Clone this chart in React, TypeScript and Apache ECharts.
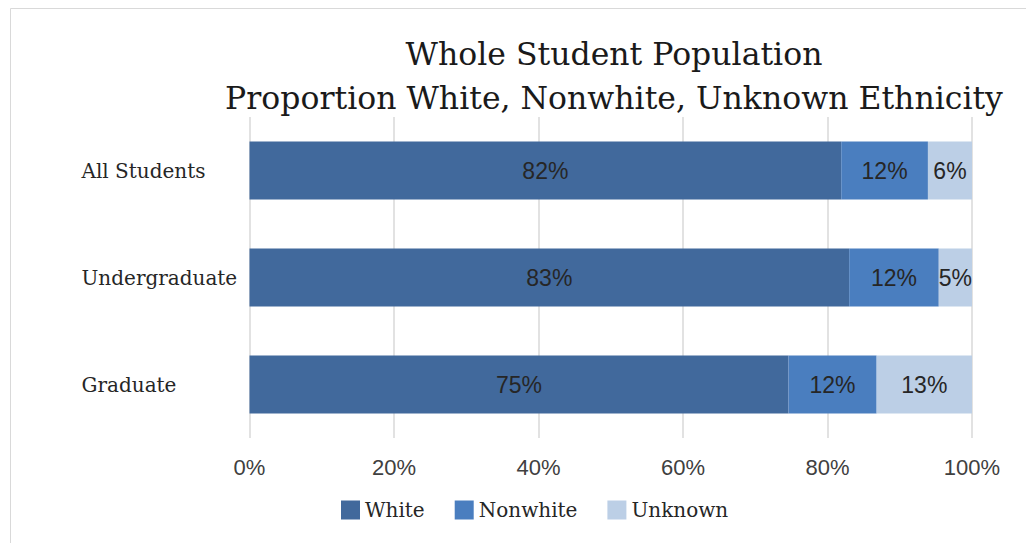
import React, { useEffect, useRef } from "react";
import * as echarts from "echarts";

const categories = ["All Students", "Undergraduate", "Graduate"];
const white = [81.9, 83.0, 74.6];
const nonwhite = [12.0, 12.4, 12.2];
const unknown = [6.1, 4.6, 13.2];
const xTicks = [0, 20, 40, 60, 80, 100];
const seriesNames = ["White", "Nonwhite", "Unknown"];
const colors = ["#41699c", "#4a7ebf", "#bccfe6"];

export default function App() {
  const ref = useRef<HTMLDivElement>(null);
  useEffect(() => {
    const chart = echarts.init(ref.current!, null, { renderer: "svg" });
    const serif = "DejaVu Serif";
    const sans = "Liberation Sans";
    const mk = (name: string, data: number[], color: string) => ({
      name,
      type: "bar",
      stack: "total",
      data,
      barWidth: 58,
      itemStyle: { color },
      label: {
        show: true,
        position: "inside",
        formatter: (p: any) => Math.round(p.value) + "%",
        fontFamily: sans,
        fontSize: 23,
        color: "#262626",
      },
    });
    chart.setOption({
      animation: false,
      backgroundColor: "#fff",
      title: {
        text: "Whole Student Population\nProportion White, Nonwhite, Unknown Ethnicity",
        left: 609,
        textAlign: "center",
        top: 27,
        textStyle: {
          fontFamily: serif,
          fontSize: 31.5,
          fontWeight: "normal",
          color: "#1a1a1a",
          lineHeight: 44,
        },
      },
      graphic: [
        {
          type: "rect",
          shape: { x: 10.5, y: 8.5, width: 1030, height: 540 },
          style: { fill: "none", stroke: "#d9d9d9", lineWidth: 1 },
        },
      ],
      legend: {
        bottom: 18,
        left: 336,
        itemWidth: 19,
        itemHeight: 19,
        itemGap: 30,
        icon: "rect",
        textStyle: { fontFamily: serif, fontSize: 20, color: "#262626" },
        data: seriesNames,
      },
      grid: { left: 249.5, right: 54, top: 117, bottom: 105, containLabel: false },
      xAxis: {
        type: "value",
        min: xTicks[0],
        max: xTicks[xTicks.length - 1],
        interval: 20,
        axisLine: { show: false },
        axisTick: { show: false },
        splitLine: { show: true, lineStyle: { color: "#d9d9d9", width: 1.5 } },
        axisLabel: {
          formatter: (v: number) => v + "%",
          fontFamily: sans,
          fontSize: 22,
          color: "#404040",
          margin: 18,
        },
      },
      yAxis: {
        type: "category",
        inverse: true,
        data: categories,
        axisLine: { show: false },
        axisTick: { show: false },
        axisLabel: {
          align: "left",
          margin: 168,
          fontFamily: serif,
          fontSize: 20,
          color: "#262626",
        },
      },
      series: [
        mk(seriesNames[0], white, colors[0]),
        mk(seriesNames[1], nonwhite, colors[1]),
        mk(seriesNames[2], unknown, colors[2]),
      ],
    });
    return () => chart.dispose();
  }, []);
  return <div ref={ref} style={{ width: 1026, height: 543, position: "absolute", left: 0, top: 0 }} />;
}
